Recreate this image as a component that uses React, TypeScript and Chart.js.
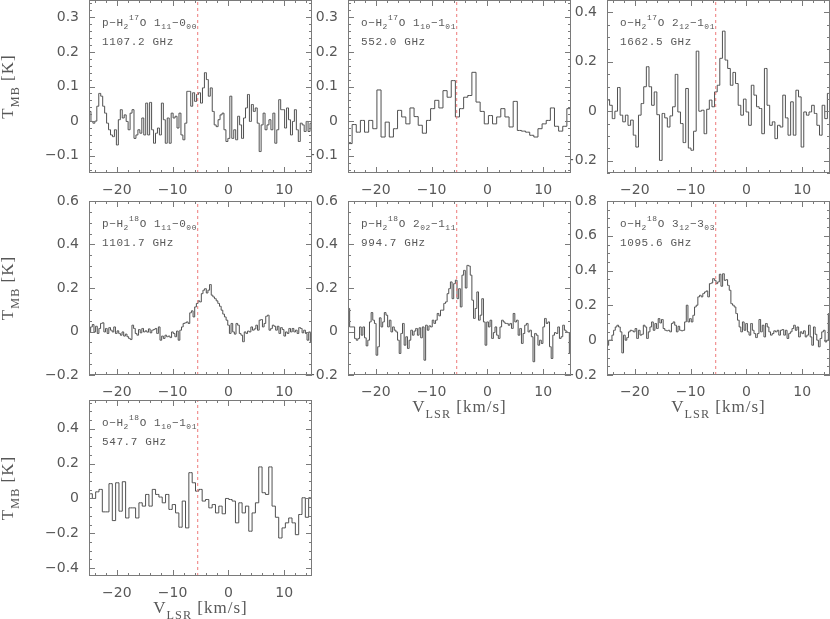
import React, { useEffect, useRef } from 'react';
import { Chart, registerables } from 'chart.js';

Chart.register(...registerables);

// ---------- data ----------
const V_MIN = -25;
const V_MAX = 15;
const V_SOURCE = -5.5;
const X_TICKS = [-20, -10, 0, 10];

const P1_LABEL = 'p−H_{2}^{17}O 1_{11}−0_{00}';
const P1_FREQ = '1107.2 GHz';
const P1_YTICKS = [-0.1, 0, 0.1, 0.2, 0.3];
const P1_T = [
  0.028, -0.001, -0.006, 0, 0.043, 0.080, 0.072, 0.043, 0.023, -0.006,
  -0.025, -0.040, -0.045, -0.025, -0.069, 0.004, 0.033, 0.009, 0.018, -0.001,
  -0.025, 0.023, 0.033, -0.050, -0.040, -0.025, -0.035, 0.009, -0.040, 0.052,
  -0.040, 0.054, -0.025, -0.064, -0.035, -0.020, -0.040, 0.052, 0.004, -0.064,
  0.009, -0.064, 0.023, 0.009, 0.014, -0.020, 0.023, -0.040, -0.054, -0.006,
  0.086, 0.086, 0.043, 0.082, 0.057, 0.077, 0.082, 0.052, 0.096, 0.140,
  0.120, 0.072, 0.096, 0.028, -0.011, -0.016, 0.004, 0.018, 0.023, -0.025,
  -0.059, -0.050, 0.072, -0.050, -0.025, -0.054, 0.014, -0.011, -0.050, 0.009,
  0.038, 0.077, -0.001, 0.048, 0.028, 0.038, -0.006, -0.088, -0.011, 0.023,
  -0.025, -0.011, 0.004, -0.025, 0.023, -0.064, -0.025, 0.062, 0.033, 0.033,
  -0.020, 0.038, 0.004, -0.040, -0.001, 0.033, -0.025, -0.059, -0.006, -0.011,
  -0.030, -0.001, -0.030, -0.006,
];

const P2_LABEL = 'o−H_{2}^{17}O 1_{10}−1_{01}';
const P2_FREQ = '552.0 GHz';
const P2_YTICKS = [-0.1, 0, 0.1, 0.2, 0.3];
const P2_T = [
  -0.065, -0.010, -0.032, 0.002, -0.032, 0.002, -0.022, 0.090, -0.046, -0.003,
  -0.046, -0.022, 0.031, 0.012, -0.008, 0.038, 0.013, -0.012, -0.035, 0.002,
  0.036, 0.060, 0.038, 0.088, 0.069, 0.117, 0.012, 0.036, 0.069, 0.074,
  0.141, 0.055, 0.028, -0.008, 0.016, -0.008, 0.012, 0.036, 0.012, -0.017,
  0.057, -0.027, -0.029, -0.032, -0.041, -0.046, -0.022, -0.008, 0.002, 0.038,
  -0.015, -0.029, -0.015, 0.036,
];

const P3_LABEL = 'o−H_{2}^{17}O 2_{12}−1_{01}';
const P3_FREQ = '1662.5 GHz';
const P3_YTICKS = [-0.2, 0, 0.2, 0.4];
const P3_T = [
  0.045, 0.024, -0.030, 0, 0.096, -0.016, -0.043, -0.016, -0.057, -0.036,
  -0.097, -0.145, -0.016, 0.031, 0.099, 0.180, 0.099, 0.024, 0.078, -0.014,
  -0.199, -0.009, -0.027, -0.064, -0.019, 0.018, 0.149, -0.003, -0.050, -0.127,
  0.092, -0.149, -0.158, -0.081, 0.243, 0, 0.004, -0.091, 0.008, 0.045,
  0.018, 0.078, 0.105, 0.214, 0.324, 0.207, 0.173, 0.105, 0.157, 0.112,
  0.024, -0.016, 0.049, -0.003, -0.057, 0.105, 0.065, 0.018, 0.011, -0.091,
  0.173, 0.024, -0.057, -0.043, -0.111, -0.057, -0.064, 0.065, -0.027, -0.097,
  0.038, -0.097, 0.085, 0.058, -0.145, -0.003, -0.016, -0.003, 0.024, -0.009,
  -0.057, -0.097, 0.024, -0.030, 0.072,
];

const P4_LABEL = 'p−H_{2}^{18}O 1_{11}−0_{00}';
const P4_FREQ = '1101.7 GHz';
const P4_YTICKS = [-0.2, 0, 0.2, 0.4, 0.6];
const P4_T = [
  -0.002, 0.021, 0.032, -0.002, 0.024, -0.009, 0.014, 0.037, 0.040, -0.002,
  0.014, -0.009, 0.018, 0.006, -0.002, 0.021, -0.009, 0.003, -0.009, -0.017,
  -0.002, -0.021, -0.012, -0.024, -0.032, -0.037, 0.029, 0.014, -0.009, -0.017,
  0.009, -0.006, 0.014, -0.002, 0.003, -0.003, 0.012, -0.006, 0.006, 0.009,
  0.014, -0.009, 0.021, -0.040, -0.021, -0.032, -0.017, -0.024, -0.021, -0.028,
  -0.002, -0.009, -0.024, 0.002, -0.040, 0.006, 0.021, 0.037, 0.040, 0.044,
  0.037, 0.086, 0.095, 0.067, 0.113, 0.129, 0.141, 0.136, 0.174, 0.190,
  0.197, 0.177, 0.190, 0.216, 0.167, 0.159, 0.151, 0.141, 0.129, 0.116,
  0.098, 0.080, 0.067, 0.052, 0.029, -0.009, 0.037, -0.002, -0.012, 0.037,
  0.029, -0.009, -0.017, -0.047, -0.002, -0.009, 0.002, -0.002, 0.021, 0.006,
  0.012, 0.029, 0.006, 0.052, 0.055, 0.021, 0.037, 0.070, 0.075, 0.006,
  0.014, 0.029, 0.024, 0.006, 0.024, -0.009, 0.018, 0.009, -0.021, -0.002,
  -0.009, 0.014, -0.002, 0.014, -0.002, 0.006, -0.009, 0.018, 0.014, -0.006,
  0.006, -0.009, -0.040, -0.002, -0.047,
];

const P5_LABEL = 'p−H_{2}^{18}O 2_{02}−1_{11}';
const P5_FREQ = '994.7 GHz';
const P5_YTICKS = [-0.2, 0, 0.2, 0.4, 0.6];
const P5_T = [
  0.106, 0.021, 0.021, 0.021, -0.032, -0.040, -0.032, 0.021, -0.017, 0.021,
  -0.029, -0.066, -0.040, 0.044, 0.087, 0.052, 0.037, -0.109, -0.070, 0.063,
  0.021, 0.044, 0.087, 0.075, 0.021, 0.052, -0.002, 0.021, 0.006, -0.002,
  -0.040, -0.101, -0.009, 0.037, -0.063, -0.024, -0.078, -0.040, 0.006, -0.017,
  0.002, 0.014, -0.017, 0.017, -0.029, 0.021, -0.132, 0.029, 0.006, 0.026,
  0.021, 0.052, 0.037, 0.052, 0.083, 0.072, 0.098, 0.098, 0.129, 0.136,
  0.174, 0.197, 0.228, 0.151, 0.220, 0.236, 0.151, 0.197, 0.113, 0.259,
  0.281, 0.200, 0.304, 0.301, 0.259, 0.144, 0.060, 0.106, 0.182, 0.052,
  0.075, 0.151, 0.044, -0.063, 0.044, 0.021, 0.052, -0.032, -0.005, 0.021,
  -0.017, -0.032, 0.021, 0.052, 0.044, 0.037, 0.037, 0.029, 0.037, 0.014,
  0.083, 0.044, 0.052, -0.017, 0.014, -0.055, -0.009, 0.029, 0.037, -0.002,
  0.006, -0.024, -0.139, -0.009, -0.017, -0.063, -0.040, -0.055, 0.021, 0.060,
  0.037, 0.044, -0.070, -0.124, -0.017, -0.005, -0.009, 0.021, -0.032, -0.024,
  0.029, 0.006, -0.002, -0.005, -0.101,
];

const P6_LABEL = 'o−H_{2}^{18}O 3_{12}−3_{03}';
const P6_FREQ = '1095.6 GHz';
const P6_YTICKS = [-0.2, 0, 0.2, 0.4, 0.6, 0.8];
const P6_T = [
  -0.029, 0, 0, 0.029, 0.057, 0.076, 0.086, 0.076, 0.048, -0.073,
  0.029, 0, 0.015, 0.048, 0.057, 0.054, 0.048, 0.067, 0.010, 0.057,
  0.029, 0.034, 0.086, 0.076, 0.010, 0.048, 0.076, 0.105, 0.057, 0.096,
  0.067, 0.124, 0.099, 0.119, 0.067, 0.057, 0.054, 0.057, 0.048, 0.096,
  0.105, 0.086, 0.048, 0.080, 0.057, 0.054, 0.057, 0.105, 0.201, 0.105,
  0.124, 0.105, 0.143, 0.191, 0.201, 0.249, 0.258, 0.249, 0.268, 0.277,
  0.283, 0.249, 0.325, 0.329, 0.354, 0.344, 0.325, 0.335, 0.379, 0.310,
  0.382, 0.344, 0.348, 0.315, 0.287, 0.210, 0.201, 0.191, 0.153, 0.115,
  0.076, 0.048, 0.105, 0.057, 0.096, 0.048, 0.029, 0.096, 0.057, 0.038,
  0.015, 0.038, 0.119, 0.048, 0.086, 0.019, 0.096, 0.076, 0.048, 0.029,
  0.038, 0.054, 0.048, 0.057, 0.029, 0.057, 0.061, 0.029, 0.057, 0.010,
  0.038, 0.048, 0.067, 0.086, 0.057, 0.076, 0.019, 0.048, 0.038, 0.054,
  0.019, 0.029, 0.086, 0.019, -0.029, 0.076, 0.034, 0, -0.038, 0.010,
  0.048, 0.057, -0.010, 0, 0.153,
];

const P7_LABEL = 'o−H_{2}^{18}O 1_{10}−1_{01}';
const P7_FREQ = '547.7 GHz';
const P7_YTICKS = [-0.4, -0.2, 0, 0.2, 0.4];
const P7_T = [
  0.027, 0, 0.038, 0.052, -0.077, -0.077, 0.085, -0.127, 0.090, -0.073,
  0.096, -0.112, -0.054, -0.054, -0.112, -0.025, -0.044, 0.023, -0.044, 0.052,
  0.023, 0.008, -0.025, 0.023, -0.063, -0.035, -0.083, -0.165, -0.015, -0.169,
  0.148, 0.090, 0.042, 0.052, -0.015, -0.006, -0.054, -0.035, -0.083, -0.044,
  -0.088, 0, -0.006, -0.015, -0.140, -0.025, -0.083, -0.044, -0.188, -0.083,
  -0.025, 0.181, 0.033, 0.023, 0.181, -0.044, -0.108, -0.227, -0.169, -0.140,
  -0.112, -0.140, -0.208, -0.092, 0.004, -0.108, 0.004,
];

const X_TITLE = 'V_{LSR} [km/s]';
const Y_TITLE = 'T_{MB} [K]';

// ---------- layout / style ----------
const COL_LEFT = [89, 348, 607];
const PLOT_W = 223;
const ROW_TOP = [0, 201, 400];
const ROW_H = [173, 174, 176];

const LINE_COLOR = '#505050';
const FRAME_COLOR = '#7a7a7a';
const TEXT_COLOR = '#585858';
const DASH_COLOR = '#ee7a7a';
const TICK_FONT = '"DejaVu Sans", sans-serif';
const ANNOT_FONT = '"Liberation Mono", monospace';
const TITLE_FONT = '"Liberation Serif", serif';

type PanelDef = {
  label: string; freq: string; t: number[]; yticks: number[];
  ymin: number; ymax: number; yminor: number;
  col: number; row: number; xTitle: boolean; yTitle: boolean;
};

const PANELS: PanelDef[] = [
  { label: P1_LABEL, freq: P1_FREQ, t: P1_T, yticks: P1_YTICKS, ymin: -0.15, ymax: 0.35, yminor: 0.02, col: 0, row: 0, xTitle: false, yTitle: true },
  { label: P2_LABEL, freq: P2_FREQ, t: P2_T, yticks: P2_YTICKS, ymin: -0.15, ymax: 0.35, yminor: 0.02, col: 1, row: 0, xTitle: false, yTitle: false },
  { label: P3_LABEL, freq: P3_FREQ, t: P3_T, yticks: P3_YTICKS, ymin: -0.25, ymax: 0.45, yminor: 0.05, col: 2, row: 0, xTitle: false, yTitle: false },
  { label: P4_LABEL, freq: P4_FREQ, t: P4_T, yticks: P4_YTICKS, ymin: -0.2, ymax: 0.6, yminor: 0.05, col: 0, row: 1, xTitle: false, yTitle: true },
  { label: P5_LABEL, freq: P5_FREQ, t: P5_T, yticks: P5_YTICKS, ymin: -0.2, ymax: 0.6, yminor: 0.05, col: 1, row: 1, xTitle: true, yTitle: false },
  { label: P6_LABEL, freq: P6_FREQ, t: P6_T, yticks: P6_YTICKS, ymin: -0.2, ymax: 0.8, yminor: 0.05, col: 2, row: 1, xTitle: true, yTitle: false },
  { label: P7_LABEL, freq: P7_FREQ, t: P7_T, yticks: P7_YTICKS, ymin: -0.445, ymax: 0.565, yminor: 0.05, col: 0, row: 2, xTitle: true, yTitle: true },
];

function fmt(v: number, digits: number) {
  if (Math.abs(v) < 1e-9) return '0';
  return (v < 0 ? '−' : '') + Math.abs(v).toFixed(digits);
}

type Part = { t: string; fs: number; dy: number; w?: number };
function drawRich(ctx: CanvasRenderingContext2D, s: string, x: number, y: number, size: number, family: string, spacing: number, align: 'left' | 'center') {
  const parts: Part[] = s.split(/(_\{[^}]*\}|\^\{[^}]*\})/).filter((q) => q.length > 0).map((q) => {
    if (q.startsWith('_{')) return { t: q.slice(2, -1), fs: size * 0.72, dy: size * 0.38 };
    if (q.startsWith('^{')) return { t: q.slice(2, -1), fs: size * 0.72, dy: -size * 0.42 };
    return { t: q, fs: size, dy: 0 };
  });
  (ctx as any).letterSpacing = spacing + 'px';
  let total = 0;
  for (const q of parts) {
    ctx.font = `${q.fs}px ${family}`;
    q.w = ctx.measureText(q.t).width;
    total += q.w;
  }
  let cx = align === 'center' ? x - total / 2 : x;
  for (const q of parts) {
    ctx.font = `${q.fs}px ${family}`;
    ctx.fillText(q.t, cx, y + q.dy);
    cx += q.w!;
  }
  (ctx as any).letterSpacing = '0px';
}

function makeDecor(p: PanelDef) {
  return {
    id: 'decor',
    beforeDraw(chart: any) {
      const { ctx, chartArea: a } = chart;
      ctx.save();
      ctx.fillStyle = '#ffffff';
      ctx.fillRect(a.left, a.top, a.right - a.left, a.bottom - a.top);
      ctx.restore();
    },
    afterDraw(chart: any) {
      const { ctx, chartArea: a, scales } = chart;
      const xs = scales.x;
      const ys = scales.y;
      ctx.save();
      ctx.strokeStyle = FRAME_COLOR;
      ctx.lineWidth = 1;
      ctx.strokeRect(a.left + 0.5, a.top + 0.5, a.right - a.left - 1, a.bottom - a.top - 1);
      ctx.beginPath();
      const X_MINOR = 2;
      for (let v = Math.ceil(V_MIN / X_MINOR) * X_MINOR; v <= V_MAX; v += X_MINOR) {
        const px = Math.round(xs.getPixelForValue(v)) + 0.5;
        const len = v % 10 === 0 ? 6 : 3;
        ctx.moveTo(px, a.bottom); ctx.lineTo(px, a.bottom - len);
        ctx.moveTo(px, a.top); ctx.lineTo(px, a.top + len);
      }
      const k0 = Math.ceil(p.ymin / p.yminor - 1e-6);
      const k1 = Math.floor(p.ymax / p.yminor + 1e-6);
      for (let k = k0; k <= k1; k++) {
        const v = k * p.yminor;
        const major = p.yticks.some((t) => Math.abs(t - v) < 1e-6);
        const py = Math.round(ys.getPixelForValue(v)) + 0.5;
        const len = major ? 6 : 3;
        ctx.moveTo(a.left, py); ctx.lineTo(a.left + len, py);
        ctx.moveTo(a.right, py); ctx.lineTo(a.right - len, py);
      }
      ctx.stroke();

      ctx.fillStyle = TEXT_COLOR;
      ctx.textBaseline = 'middle';
      ctx.textAlign = 'left';
      drawRich(ctx, p.label, a.left + 13, a.top + 23, 11, ANNOT_FONT, 0.6, 'left');
      drawRich(ctx, p.freq, a.left + 13, a.top + 42, 11, ANNOT_FONT, 0.6, 'left');

      if (p.xTitle) {
        drawRich(ctx, X_TITLE, (a.left + a.right) / 2, a.bottom + 33, 17, TITLE_FONT, 1, 'center');
      }
      if (p.yTitle) {
        ctx.translate(9, (a.top + a.bottom) / 2);
        ctx.rotate(-Math.PI / 2);
        drawRich(ctx, Y_TITLE, 0, 0, 17, TITLE_FONT, 1, 'center');
      }
      ctx.restore();
    },
  };
}

function Panel({ p }: { p: PanelDef }) {
  const ref = useRef<HTMLCanvasElement>(null);
  const left = p.col === 0 ? 0 : COL_LEFT[p.col] - 50;
  const yW = COL_LEFT[p.col] - left;
  const padTop = 10;
  const padRight = 6;
  const xH = 45;
  const top = ROW_TOP[p.row] - padTop;
  const width = COL_LEFT[p.col] + PLOT_W + padRight - left;
  const height = ROW_H[p.row] + padTop + xH;

  useEffect(() => {
    const dv = (V_MAX - V_MIN) / p.t.length;
    const pts = p.t.map((y, i) => ({ x: V_MIN + (i + 0.5) * dv, y }));
    const spec = [{ x: V_MIN, y: p.t[0] }, ...pts, { x: V_MAX, y: p.t[p.t.length - 1] }];
    const chart = new Chart(ref.current!, {
      type: 'line',
      data: {
        datasets: [
          { data: spec, stepped: 'middle', borderColor: LINE_COLOR, borderWidth: 1, pointRadius: 0, fill: false, order: 1 } as any,
          { data: [{ x: V_SOURCE, y: p.ymin }, { x: V_SOURCE, y: p.ymax }], borderColor: DASH_COLOR, borderWidth: 1, borderDash: [3, 3], pointRadius: 0, fill: false, order: 0 } as any,
        ],
      },
      options: {
        animation: false,
        responsive: false,
        devicePixelRatio: 1,
        events: [],
        layout: { padding: { top: padTop, right: padRight, left: 0, bottom: 0 } },
        plugins: { legend: { display: false }, tooltip: { enabled: false } },
        scales: {
          x: {
            type: 'linear', min: V_MIN, max: V_MAX,
            afterBuildTicks: (s: any) => { s.ticks = X_TICKS.map((v) => ({ value: v })); },
            afterFit: (s: any) => { s.height = xH; s.paddingLeft = 0; s.paddingRight = 0; },
            grid: { display: false, drawTicks: false },
            border: { display: false },
            ticks: { padding: 9, color: TEXT_COLOR, font: { family: TICK_FONT, size: 14 }, maxRotation: 0, autoSkip: false, callback: (v: any) => fmt(Number(v), 0) },
          },
          y: {
            type: 'linear', min: p.ymin, max: p.ymax,
            afterBuildTicks: (s: any) => { s.ticks = p.yticks.map((v) => ({ value: v })); },
            afterFit: (s: any) => { s.width = yW; s.paddingTop = 0; s.paddingBottom = 0; },
            grid: { display: false, drawTicks: false },
            border: { display: false },
            ticks: { padding: 10, color: TEXT_COLOR, font: { family: TICK_FONT, size: 14 }, autoSkip: false, callback: (v: any) => fmt(Number(v), 1) },
          },
        },
      } as any,
      plugins: [makeDecor(p)],
    });
    return () => chart.destroy();
  }, []);

  return (
    <canvas
      ref={ref}
      width={width}
      height={height}
      style={{ position: 'absolute', left, top, width, height, zIndex: 3 - p.col }}
    />
  );
}

export default function App() {
  return (
    <div style={{ position: 'absolute', left: 0, top: 0, width: 830, height: 619, overflow: 'hidden', background: '#ffffff' }}>
      {PANELS.map((p, i) => <Panel key={i} p={p} />)}
    </div>
  );
}
